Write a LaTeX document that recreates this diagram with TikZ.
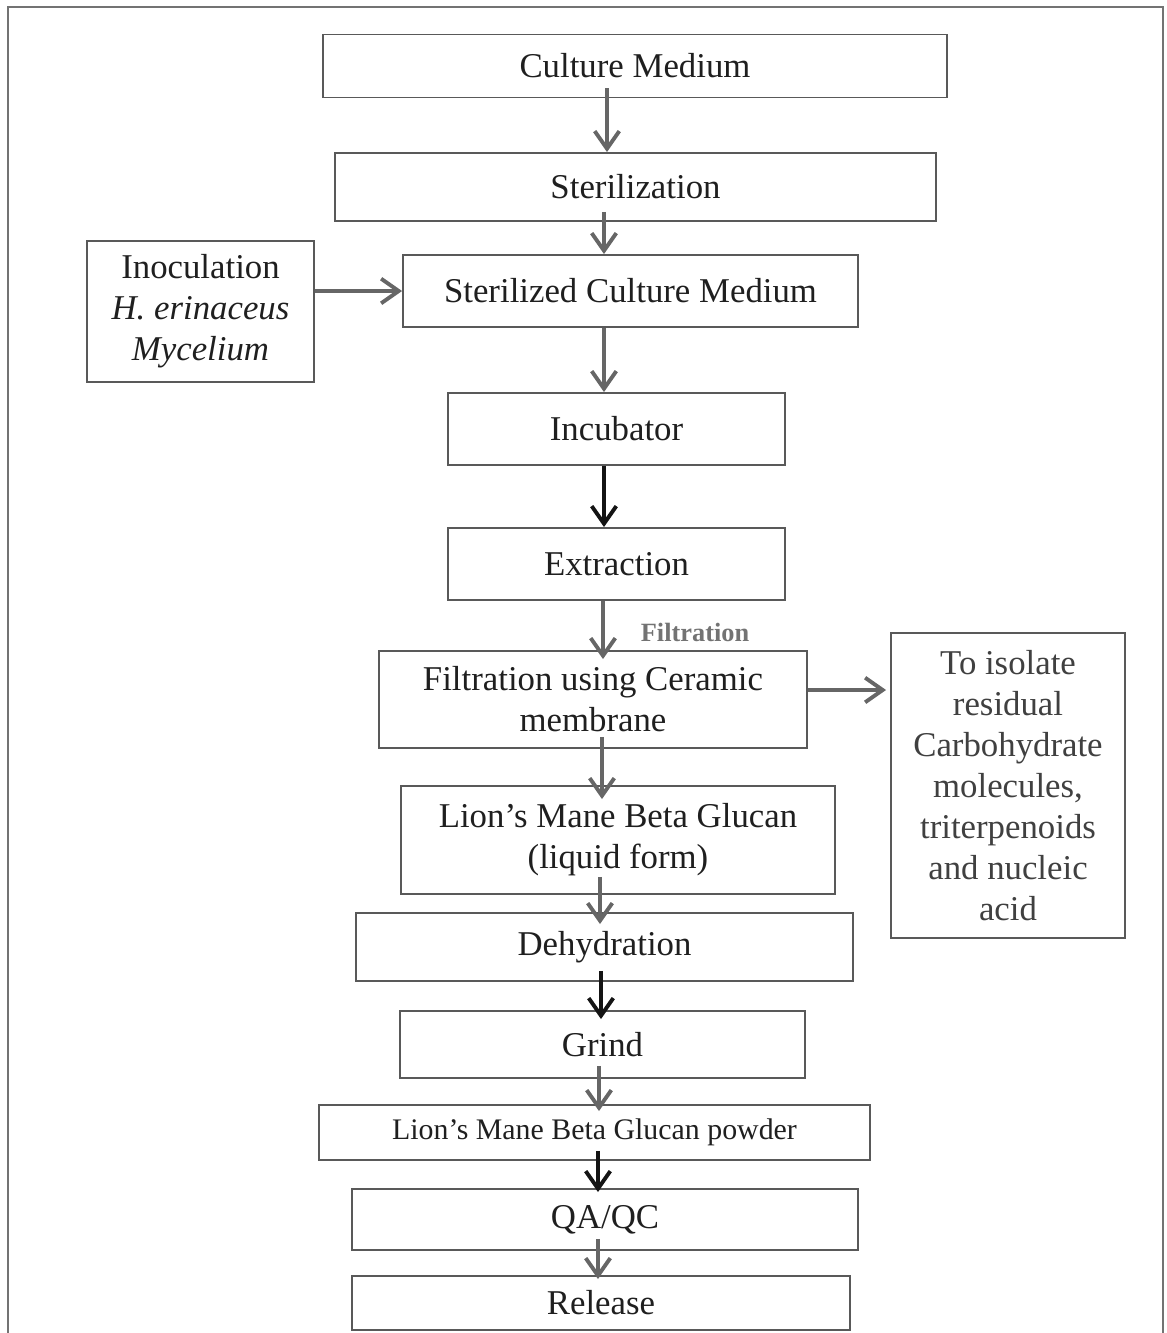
\documentclass[tikz,border=0pt]{standalone}
\usepackage{fontspec}
\setmainfont{Liberation Serif}
\usetikzlibrary{arrows.meta}

\begin{document}
\begin{tikzpicture}[x=0.02cm, y=-0.02cm,
	stage/.style={draw=black!65, line width=1.1pt, text=black!88, align=center, inner sep=0pt,
		font=\fontsize{19.8}{23.3}\selectfont},
	flow/.style={draw=black!60, line width=2.2pt, -{Straight Barb[length=10pt,width=14pt]}},
	darkflow/.style={flow, draw=black!92}]
	\useasboundingbox (0,0) rectangle (1167,1333);
	% outer frame
	\draw[black!55, line width=1.1pt] (8,1333) -- (8,7) -- (1163,7) -- (1163,1333);

	\node[stage, minimum width=12.5cm, minimum height=1.26cm] (medium) at (635,66) {Culture Medium};
	\node[stage, minimum width=12.02cm, minimum height=1.36cm] (steril) at (635.5,187) {Sterilization};
	\node[stage, minimum width=9.1cm, minimum height=1.44cm] (stmedium) at (630.5,291) {Sterilized Culture Medium};
	\node[stage, minimum width=4.54cm, minimum height=2.82cm] (inoc) at (200.5,311.5)
		{Inoculation\\ \textit{H. erinaceus}\\ \textit{Mycelium}};
	\node[stage, minimum width=6.74cm, minimum height=1.44cm] (incub) at (616.5,429) {Incubator};
	\node[stage, minimum width=6.74cm, minimum height=1.44cm] (extract) at (616.5,564) {Extraction};
	\node[stage, minimum width=8.56cm, minimum height=1.94cm] (filter) at (593,699.5)
		{Filtration using Ceramic\\ membrane};
	\node[stage, minimum width=4.68cm, minimum height=6.1cm, text=black!75] (isolate) at (1008,785.5)
		{To isolate\\ residual\\ Carbohydrate\\ molecules,\\ triterpenoids\\ and nucleic\\ acid};
	\node[stage, minimum width=8.68cm, minimum height=2.16cm] (liquid) at (618,840)
		{Lion’s Mane Beta Glucan\\ (liquid form)};
	\node[stage, minimum width=9.94cm, minimum height=1.36cm] (dehyd) at (604.5,947) {Dehydration};
	\node[stage, minimum width=8.1cm, minimum height=1.34cm] (grind) at (602.5,1044.5) {Grind};
	\node[stage, minimum width=11.02cm, minimum height=1.1cm, font=\fontsize{17}{20}\selectfont] (powder) at (594.5,1132.5)
		{Lion’s Mane Beta Glucan powder};
	\node[stage, minimum width=10.12cm, minimum height=1.22cm] (qaqc) at (605,1219.5) {QA/QC};
	\node[stage, minimum width=9.96cm, minimum height=1.08cm] (release) at (601,1303) {Release};

	\node[text=black!55, font=\bfseries\fontsize{15}{18}\selectfont] (filtlabel) at (695,632) {Filtration};

	% connectors, each one starts a little inside the box above
	\draw[flow] ([yshift=0.2cm]medium.south -| 607,0) -- (steril.north -| 607,0);
	\draw[flow] ([yshift=0.2cm]steril.south -| 604,0) -- (stmedium.north -| 604,0);
	\draw[flow] (inoc.east |- stmedium.west) -- (stmedium.west);
	\draw[flow] (stmedium.south -| 604,0) -- (incub.north -| 604,0);
	\draw[darkflow] (incub.south -| 604,0) -- (extract.north -| 604,0);
	\draw[flow] (extract.south -| 603,0) -- ([yshift=-0.18cm]filter.north -| 603,0);
	\draw[flow] ([yshift=0.19cm]filter.east) -- ([yshift=0.19cm,xshift=-0.08cm]isolate.west |- filter.east);
	\draw[flow] ([yshift=0.24cm]filter.south -| 602,0) -- ([yshift=-0.28cm]liquid.north -| 602,0);
	\draw[flow] ([yshift=0.36cm]liquid.south -| 600,0) -- ([yshift=-0.24cm]dehyd.north -| 600,0);
	\draw[darkflow] ([yshift=0.22cm]dehyd.south -| 601,0) -- ([yshift=-0.18cm]grind.north -| 601,0);
	\draw[flow] ([yshift=0.26cm]grind.south -| 599,0) -- ([yshift=-0.14cm]powder.north -| 599,0);
	\draw[darkflow] ([yshift=0.2cm]powder.south -| 598,0) -- ([yshift=-0.08cm]qaqc.north -| 598,0);
	\draw[flow] ([yshift=0.24cm]qaqc.south -| 598,0) -- ([yshift=-0.08cm]release.north -| 598,0);
\end{tikzpicture}
\end{document}
